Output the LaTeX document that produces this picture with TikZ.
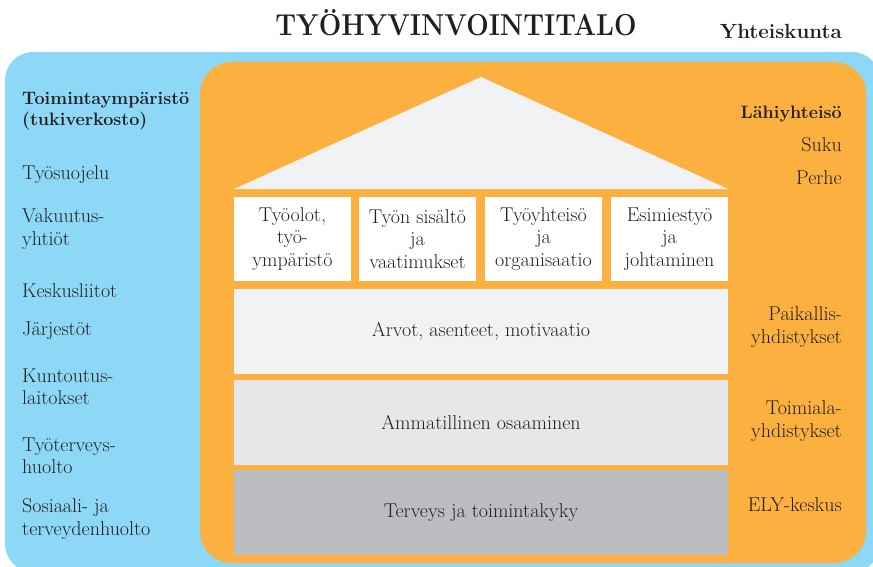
\documentclass[tikz,border=0pt]{standalone}
\usepackage{fontspec}
\begin{document}
\definecolor{skyblue}{HTML}{8DD7F7}
\definecolor{orangebg}{HTML}{FBB040}
\definecolor{roofgray}{HTML}{F1F2F3}
\definecolor{layerone}{HTML}{F1F2F4}
\definecolor{layertwo}{HTML}{E6E7E8}
\definecolor{layerthree}{HTML}{BCBDC0}
\definecolor{ink}{HTML}{231F20}
\begin{tikzpicture}[x=1pt,y=-1pt,
  every node/.style={text=ink, inner sep=0pt},
  txt/.style={font=\fontsize{20}{22.3}\selectfont},
  boldtxt/.style={font=\bfseries\fontsize{18}{21.5}\selectfont},
  lefttxt/.style={txt, anchor=west, align=left},
  righttxt/.style={txt, anchor=east, align=right},
  pillar/.style={fill=white, minimum width=117pt, minimum height=84pt, align=center, txt},
  layer/.style={minimum width=494pt, minimum height=85pt, align=center, txt}]
\useasboundingbox (0,0) rectangle (873,567);
% backgrounds
\fill[skyblue, rounded corners=28pt] (5,52) rectangle (880,572);
\fill[orangebg, rounded corners=32pt] (200,62) rectangle (866,563);
% roof
\fill[roofgray] (234,189) -- (481,77) -- (728,189) -- cycle;
% title
\node[font=\bfseries\fontsize{28}{30}\selectfont] (title) at (456,23) {\scalebox{0.95}[1.08]{TYÖHYVINVOINTITALO}};
\node[font=\bfseries\fontsize{20.5}{22}\selectfont, anchor=east] (society) at (842,31) {Yhteiskunta};
% pillars
\node[pillar] (p1) at (292.5,239) {Työolot,\\työ-\\ympäristö};
\node[pillar] (p2) at (417.5,239) {Työn sisältö\\ja\\vaatimukset};
\node[pillar] (p3) at (543.5,239) {Työyhteisö\\ja\\organisaatio};
\node[pillar] (p4) at (669.5,239) {Esimiestyö\\ja\\johtaminen};
% layers
\node[layer, fill=layerone] (l1) at (481,331.5) {Arvot, asenteet, motivaatio};
\node[layer, fill=layertwo] (l2) at (481,422.5) {Ammatillinen osaaminen};
\node[layer, fill=layerthree] (l3) at (481,512.5) {Terveys ja toimintakyky};
% left column
\node[lefttxt, boldtxt] (env) at (22,111) {Toimintaympäristö\\(tukiverkosto)};
\node[lefttxt] (a1) at (22,175) {Työsuojelu};
\node[lefttxt] (a2) at (22,229) {Vakuutus-\\yhtiöt};
\node[lefttxt] (a3) at (22,291) {Keskusliitot};
\node[lefttxt] (a4) at (22,331) {Järjestöt};
\node[lefttxt] (a5) at (22,387) {Kuntoutus-\\laitokset};
\node[lefttxt] (a6) at (22,456) {Työterveys-\\huolto};
\node[lefttxt] (a7) at (22,519) {Sosiaali- ja\\terveydenhuolto};
% right column
\node[righttxt, boldtxt] (near) at (842,114) {Lähiyhteisö};
\node[righttxt] (b1) at (842,145) {Suku};
\node[righttxt] (b2) at (842,178) {Perhe};
\node[righttxt] (b3) at (842,327) {Paikallis-\\yhdistykset};
\node[righttxt] (b4) at (842,421) {Toimiala-\\yhdistykset};
\node[righttxt] (b5) at (842,505) {ELY-keskus};
\end{tikzpicture}
\end{document}
